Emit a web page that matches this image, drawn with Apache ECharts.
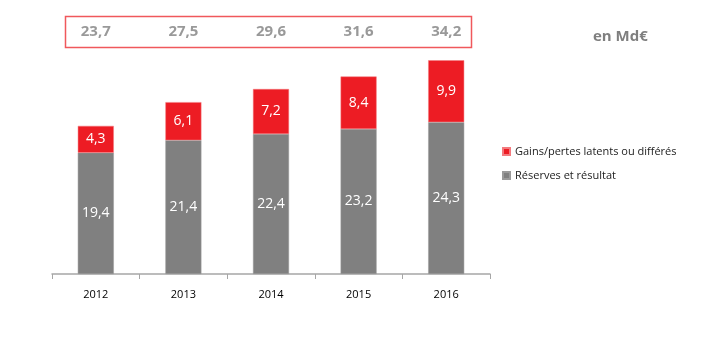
<!DOCTYPE html>
<html>
<head>
<meta charset="utf-8">
<script src="https://cdn.jsdelivr.net/npm/echarts@6/dist/echarts.min.js"></script>
<style>
  html, body { margin: 0; padding: 0; background: #fff; }
  #eCharts { width: 712px; height: 351px; }
</style>
</head>
<body>
<div id="eCharts"></div>
<script>
// données (Md€)
var years = ['2012', '2013', '2014', '2015', '2016'];
var reserves = [19.4, 21.4, 22.4, 23.2, 24.3];
var gains = [4.3, 6.1, 7.2, 8.4, 9.9];
var totalLevel = [1, 1, 1, 1, 1];

var redColor = '#ED1C24';
var greyColor = '#808080';
var font = 'Open Sans';

function fmt(v) {
    return v.toFixed(1).replace('.', ',');
}

var totals = [];
for (var i = 0; i < years.length; i++) {
    totals.push(Math.round((reserves[i] + gains[i]) * 10) / 10);
}

var myChart = echarts.init(document.getElementById('eCharts'));

var option = {
    animation: false,
    textStyle: { fontFamily: font },
    grid: [
        { left: 52, right: 222, top: 49, bottom: 77 },
        { left: 52, right: 222, top: 17, height: 30 }
    ],
    legend: {
        orient: 'vertical',
        left: 497,
        top: 141,
        itemWidth: 7,
        itemHeight: 7,
        itemGap: 13,
        icon: 'rect',
        data: ['Gains/pertes latents ou différés', 'Réserves et résultat'],
        textStyle: { fontSize: 11, color: '#222', fontFamily: font }
    },
    graphic: [
        {
            type: 'rect',
            shape: { x: 65.5, y: 16.5, width: 406, height: 31 },
            style: { fill: 'none', stroke: '#F0585C', lineWidth: 1.5 }
        },
        {
            type: 'text',
            left: 593,
            top: 29,
            style: { text: 'en Md€', fill: '#7F7F7F', font: 'bold 15px "Open Sans"' }
        }
    ],
    xAxis: [
        {
            type: 'category',
            gridIndex: 0,
            data: years,
            axisLine: { lineStyle: { color: '#A6A6A6', width: 1.5 } },
            axisTick: { show: true, length: 5, lineStyle: { color: '#A6A6A6' } },
            axisLabel: { fontSize: 11, color: '#000', margin: 15, fontFamily: font }
        },
        {
            type: 'category',
            gridIndex: 1,
            data: years,
            show: false
        }
    ],
    yAxis: [
        {
            type: 'value',
            gridIndex: 0,
            min: 0,
            max: 36,
            show: false,
            splitLine: { show: false }
        },
        {
            type: 'value',
            gridIndex: 1,
            min: 0,
            max: 2,
            show: false,
            splitLine: { show: false }
        }
    ],
    series: [
        {
            name: 'Réserves et résultat',
            type: 'bar',
            stack: 'total',
            data: reserves,
            barWidth: 36,
            itemStyle: { color: greyColor, borderColor: '#9A9A9A', borderWidth: 0.5 },
            label: {
                show: true,
                color: '#fff',
                fontSize: 14,
                fontFamily: font,
                formatter: function (p) { return fmt(p.value); }
            }
        },
        {
            name: 'Gains/pertes latents ou différés',
            type: 'bar',
            stack: 'total',
            data: gains,
            barWidth: 36,
            itemStyle: { color: redColor, borderColor: '#F37A7E', borderWidth: 0.5 },
            label: {
                show: true,
                color: '#fff',
                fontSize: 14,
                fontFamily: font,
                formatter: function (p) { return fmt(p.value); }
            }
        },
        {
            name: 'Total',
            type: 'scatter',
            xAxisIndex: 1,
            yAxisIndex: 1,
            data: totalLevel,
            symbolSize: 0,
            silent: true,
            label: {
                show: true,
                position: 'inside',
                color: '#7F7F7F',
                fontSize: 15,
                fontWeight: 'bold',
                fontFamily: font,
                formatter: function (p) { return fmt(totals[p.dataIndex]); }
            }
        }
    ]
};

myChart.setOption(option);
</script>
</body>
</html>
